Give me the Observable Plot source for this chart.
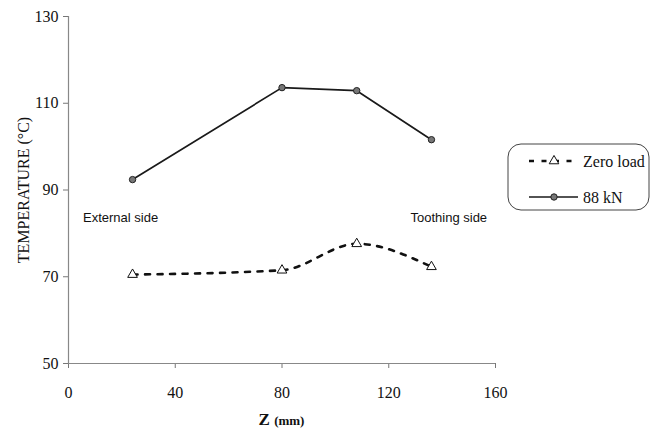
<!DOCTYPE html>
<html>
<head>
<meta charset="utf-8">
<script src="https://cdn.jsdelivr.net/npm/d3@7"></script>
<script src="https://cdn.jsdelivr.net/npm/@observablehq/plot@0.6"></script>
<style>
  html, body { margin: 0; padding: 0; background: #fff; }
  #chart { width: 652px; height: 435px; }
</style>
</head>
<body>
<div id="chart"></div>
<script>
// Temperature along the bearing width (Z), with and without load
const zValues = [24, 80, 108, 136];
const zeroLoad = [70.5, 71.5, 77.6, 72.3];
const load88kN = [92.4, 113.6, 112.9, 101.6];

const seriesNames = ["Zero load", "88 kN"];
const xTicks = [0, 40, 80, 120, 160];
const yTicks = [50, 70, 90, 110, 130];

// Side annotations placed in data space
const sideLabels = ["External side", "Toothing side"];
const sideZ = [19.5, 142.5];
const sideTemp = [83.6, 83.6];

const zeroRows = zValues.map((z, i) => ({z, t: zeroLoad[i]}));
const loadRows = zValues.map((z, i) => ({z, t: load88kN[i]}));
const sideRows = sideLabels.map((label, i) => ({label, z: sideZ[i], t: sideTemp[i]}));

const W = 652, H = 435;
const mLeft = 68, mTop = 16, mRight = 157, mBottom = 72;

const plot = Plot.plot({
  width: W,
  height: H,
  marginLeft: mLeft,
  marginTop: mTop,
  marginRight: mRight,
  marginBottom: mBottom,
  style: { fontFamily: "'Liberation Serif', 'Times New Roman', serif", fontSize: "16px", color: "#111", background: "#fff" },
  x: { domain: [0, 160] },
  y: { domain: [50, 130] },
  marks: [
    Plot.axisY({ ticks: yTicks, tickSize: 5, tickPadding: 5, label: null, stroke: "#777", fill: "#111", fontSize: 16 }),
    Plot.axisX({ ticks: xTicks, tickSize: 5, tickPadding: 18, label: null, stroke: "#777", fill: "#111", fontSize: 16 }),
    Plot.ruleY([50], { stroke: "#888", strokeWidth: 1.2 }),
    Plot.ruleX([0], { stroke: "#888", strokeWidth: 1.2 }),
    Plot.line(zeroRows, { x: "z", y: "t", curve: "monotone-x", stroke: "#111", strokeWidth: 2.6, strokeDasharray: "5,7.5" }),
    Plot.dot(zeroRows, { x: "z", y: "t", symbol: "triangle", r: 3.6, fill: "#fff", stroke: "#111", strokeWidth: 1 }),
    Plot.line(loadRows, { x: "z", y: "t", stroke: "#1a1a1a", strokeWidth: 1.7 }),
    Plot.dot(loadRows, { x: "z", y: "t", r: 3.2, fill: "#777", stroke: "#222", strokeWidth: 1 }),
    Plot.text(sideRows, { x: "z", y: "t", text: "label", fontFamily: "'Liberation Sans', Arial, sans-serif", fontSize: 13, fill: "#111" })
  ]
});

document.getElementById("chart").appendChild(plot);

const svg = d3.select(plot);

// Axis titles
svg.append("text")
  .attr("transform", `translate(25, ${190}) rotate(-90)`)
  .attr("text-anchor", "middle")
  .attr("dominant-baseline", "middle")
  .attr("font-family", "'Liberation Serif', serif")
  .attr("font-size", 16)
  .attr("fill", "#111")
  .text("TEMPERATURE (°C)");

const xTitle = svg.append("text")
  .attr("x", mLeft + (W - mLeft - mRight) / 2)
  .attr("y", 425)
  .attr("text-anchor", "middle")
  .attr("font-family", "'Liberation Serif', serif")
  .attr("fill", "#111");
xTitle.append("tspan").attr("font-size", 17).attr("font-weight", "bold").text("Z ");
xTitle.append("tspan").attr("font-size", 13).attr("font-weight", "bold").text("(mm)");

// Legend box
const lg = svg.append("g").attr("text-anchor", "start");
lg.append("rect")
  .attr("x", 508).attr("y", 144).attr("width", 141).attr("height", 66)
  .attr("rx", 13).attr("ry", 13)
  .attr("fill", "#fff").attr("stroke", "#444").attr("stroke-width", 1);

const rowsY = [161, 197];
// Zero load sample
lg.append("line")
  .attr("x1", 529).attr("x2", 574).attr("y1", rowsY[0]).attr("y2", rowsY[0])
  .attr("stroke", "#111").attr("stroke-width", 2.6).attr("stroke-dasharray", "5,7.5");
lg.append("path")
  .attr("d", d3.symbol(d3.symbolTriangle, 40)())
  .attr("transform", `translate(554, ${rowsY[0]})`)
  .attr("fill", "#fff").attr("stroke", "#111").attr("stroke-width", 1);
// 88 kN sample
lg.append("line")
  .attr("x1", 529).attr("x2", 578).attr("y1", rowsY[1]).attr("y2", rowsY[1])
  .attr("stroke", "#1a1a1a").attr("stroke-width", 1.5);
lg.append("circle")
  .attr("cx", 554).attr("cy", rowsY[1]).attr("r", 3.2)
  .attr("fill", "#777").attr("stroke", "#222").attr("stroke-width", 1);

lg.selectAll("text.legend")
  .data(seriesNames)
  .join("text")
  .attr("class", "legend")
  .attr("x", 583)
  .attr("y", (d, i) => rowsY[i] + 2)
  .attr("text-anchor", "start")
  .attr("dominant-baseline", "middle")
  .attr("font-family", "'Liberation Serif', serif")
  .attr("font-size", 16)
  .attr("fill", "#111")
  .text(d => d);
</script>
</body>
</html>
